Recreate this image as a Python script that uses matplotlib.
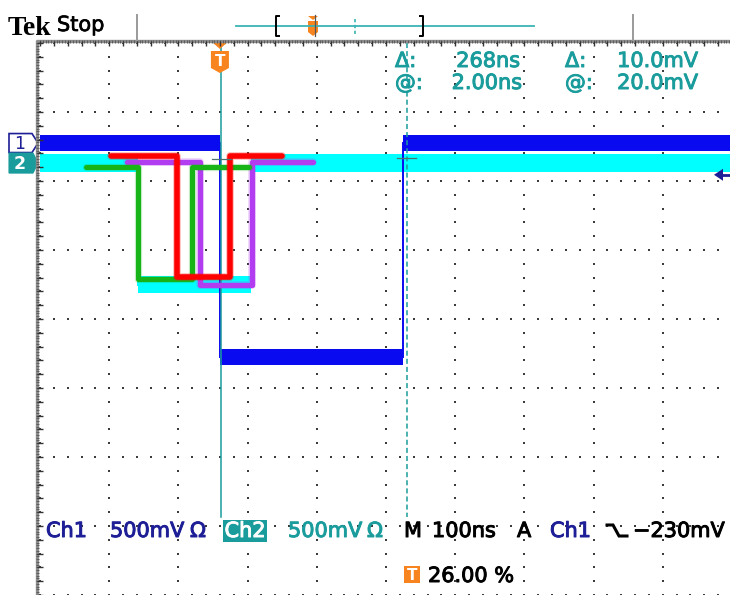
import numpy as np
import matplotlib
matplotlib.use("Agg")
import matplotlib.pyplot as plt
import matplotlib.patheffects as pe
from matplotlib.patches import Polygon, Rectangle

# ---------------- acquisition settings ----------------
time_per_div_ns = 100
volts_per_div = 0.5
trigger_position_pct = 26.00
trigger_level_V = -0.230
n_hdiv, n_vdiv = 10, 8

# channel ground markers (divisions above screen centre)
ch1_offset_div = 2.55
ch2_offset_div = 2.26

# Ch1: edge times (ns) and the levels (V) held between them
ch1_edges_ns = [0.0, 265.0]
ch1_levels_V = [0.0, -1.55, 0.0]
ch1_band_V = 0.115          # trace thickness from noise

# Ch2: edge times (ns) and levels (V)
ch2_edges_ns = [-118.0, 45.0]
ch2_levels_V = [0.0, -0.88, 0.0]
ch2_band_V = 0.13

# cursor readouts
cursor_a_ns = 2.00
cursor_delta_ns = 268
cursor_a_mV = 20.0
cursor_delta_mV = 10.0

# hand-drawn timing sketches: corner times (ns) and screen levels (div)
green_t = [-194, -119, -119, -40, -40, 42]
green_v = [2.20, 2.20, 0.58, 0.58, 2.20, 2.20]
red_t = [-158, -62, -62, 14, 14, 90]
red_v = [2.36, 2.36, 0.61, 0.61, 2.36, 2.36]
purple_t = [-135, -29, -29, 46, 46, 134]
purple_v = [2.27, 2.27, 0.50, 0.50, 2.27, 2.27]

# ---------------- colours ----------------
C_CH1 = "#0a0af0"
C_CH2 = "#00ffff"
C_TEAL = "#1a9c9c"
C_NAVY = "#1e1e96"
C_ORANGE = "#f7841e"
C_GRID = "#3c3c3c"

W, H = 730, 595
fig = plt.figure(figsize=(W / 100, H / 100), dpi=100, facecolor="white")

# graticule area in pixels
gx0, gx1 = 40.0, 732.0
gy0, gy1 = 43.0, 595.0
ax = fig.add_axes([gx0 / W, 1 - gy1 / H, (gx1 - gx0) / W, (gy1 - gy0) / H])
t_min = -trigger_position_pct / 100 * n_hdiv * time_per_div_ns
t_max = t_min + n_hdiv * time_per_div_ns
ax.set_xlim(t_min, t_max)
ax.set_ylim(-n_vdiv / 2, n_vdiv / 2)
ax.axis("off")


def px_x(t):
    return gx0 + (t - t_min) / (t_max - t_min) * (gx1 - gx0)


def px_y(v):
    return gy0 + (n_vdiv / 2 - v) / n_vdiv * (gy1 - gy0)


# ---------------- dotted graticule ----------------
minor_t = np.arange(t_min, t_max + 0.1, time_per_div_ns / 5)
minor_v = np.arange(-n_vdiv / 2, n_vdiv / 2 + 0.01, 0.2)
major_t = np.arange(t_min, t_max + 0.1, time_per_div_ns)
major_v = np.arange(-n_vdiv / 2, n_vdiv / 2 + 0.01, 1)
for v in major_v:
    ax.scatter(minor_t, np.full_like(minor_t, v), s=1.8, marker="s",
               color=C_GRID, linewidths=0, clip_on=False, zorder=1)
for t in major_t:
    ax.scatter(np.full_like(minor_v, t), minor_v, s=1.8, marker="s",
               color=C_GRID, linewidths=0, clip_on=False, zorder=1)


# ---------------- waveforms ----------------
def draw_channel(edges, levels, offset, band, color, z):
    bounds = [t_min] + list(edges) + [t_max]
    half = band / volts_per_div / 2
    lv = [offset + l / volts_per_div for l in levels]
    for i, y in enumerate(lv):
        ax.fill_between([bounds[i], bounds[i + 1]], y - half, y + half,
                        color=color, lw=0, zorder=z)
    for i, e in enumerate(edges):
        ax.plot([e, e], [lv[i], lv[i + 1]], color=color, lw=1.4, zorder=z)


draw_channel(ch2_edges_ns, ch2_levels_V, ch2_offset_div, ch2_band_V, C_CH2, 2)
draw_channel(ch1_edges_ns, ch1_levels_V, ch1_offset_div, ch1_band_V, C_CH1, 3)

# sketch overlays (soft halo + stroke)
for tt, vv, col, lw, z in [(purple_t, purple_v, "#b23cf0", 3.8, 6),
                           (green_t, green_v, "#16b416", 3.6, 7),
                           (red_t, red_v, "#ff0000", 4.0, 8)]:
    ax.plot(tt, vv, color=col, lw=lw + 1.6, alpha=0.25,
            solid_capstyle="round", solid_joinstyle="round", zorder=z)
    ax.plot(tt, vv, color=col, lw=lw, solid_capstyle="round",
            solid_joinstyle="round", zorder=z)

# cursors
readout_floor_v = -2.87
cursor_b_ns = cursor_a_ns + cursor_delta_ns
ax.plot([cursor_a_ns, cursor_a_ns], [n_vdiv / 2, readout_floor_v],
        color=C_TEAL, lw=1.1, zorder=5, clip_on=False)
ax.plot([cursor_b_ns, cursor_b_ns], [n_vdiv / 2, readout_floor_v],
        color=C_TEAL, lw=1.1, dashes=(3.3, 2.0), zorder=5)
for tc, mv in [(cursor_a_ns, cursor_a_mV - cursor_delta_mV), (cursor_b_ns, cursor_a_mV)]:
    yv = ch2_offset_div + mv / 1000 / volts_per_div + 0.04
    ax.plot([tc - 14, tc + 14], [yv, yv], color="#4a7070", lw=0.9, zorder=9)

# ---------------- overlay in pixel coordinates ----------------
ov = fig.add_axes([0, 0, 1, 1], zorder=10)
ov.set_xlim(0, W)
ov.set_ylim(H, 0)
ov.axis("off")

# border rulers
ov.plot([37, 37], [40, H], color="#8c8c8c", lw=2.4, solid_capstyle="butt")
ov.plot([36, W], [41, 41], color="#8c8c8c", lw=2.4, solid_capstyle="butt")
fine_x = np.arange(gx0, W, (gx1 - gx0) / n_hdiv / 25)
ov.vlines(fine_x, 40, 43, color="#555555", lw=0.6)
fine_y = np.arange(gy0, H, (gy1 - gy0) / n_vdiv / 25)
ov.hlines(fine_y, 36, 39, color="#555555", lw=0.6)
ov.hlines([px_y(v) for v in minor_v], 37, 43, color="#333333", lw=1.0)
ov.vlines([px_x(t) for t in minor_t], 41, 46, color="#333333", lw=1.0)

# trigger marker on the graticule
tx = px_x(0.0)
ov.add_patch(Polygon([(tx - 8, 42), (tx + 8, 42), (tx, 49)], closed=True,
                     color=C_ORANGE, lw=0))
ov.add_patch(Polygon([(tx - 9, 51), (tx + 9, 51), (tx + 9, 68), (tx, 73), (tx - 9, 68)],
                     closed=True, color=C_ORANGE, lw=0))
ov.text(tx, 62, "T", color="white", fontsize=11, fontweight="bold",
        ha="center", va="center", family="DejaVu Sans")

# channel ground markers
y1 = px_y(ch1_offset_div)
ov.add_patch(Polygon([(9, y1 - 9.5), (32, y1 - 9.5), (38, y1), (32, y1 + 9.5), (9, y1 + 9.5)],
                     closed=True, facecolor="white", edgecolor=C_NAVY, lw=1.2))
ov.text(20, y1 + 0.5, "1", color=C_NAVY, fontsize=12.5, ha="center", va="center")
y2 = px_y(ch2_offset_div)
ov.add_patch(Polygon([(9, y2 - 10), (33, y2 - 10), (38, y2), (33, y2 + 10), (9, y2 + 10)],
                     closed=True, facecolor=C_TEAL, edgecolor=C_TEAL, lw=0.8))
ov.text(20, y2 + 0.5, "2", color="white", fontsize=12.5, fontweight="bold",
        ha="center", va="center")

# trigger level arrow at the right edge
yt = px_y(ch1_offset_div + trigger_level_V / volts_per_div)
ov.add_patch(Polygon([(714, yt), (723, yt - 6), (723, yt + 6)], closed=True,
                     color=C_NAVY, lw=0))
ov.plot([722, W], [yt, yt], color=C_NAVY, lw=2)

# header
ov.text(8, 35, "Tek", family="Liberation Serif", fontweight="bold", fontsize=20,
        color="black", va="baseline")
ov.text(57, 31, "Stop", family="DejaVu Sans", fontsize=15, color="black", va="baseline",
        path_effects=[pe.withStroke(linewidth=0.5, foreground="black")])
ov.plot([137, 137], [15, 40], color="#9a9a9a", lw=1.4)
ov.plot([633, 633], [15, 40], color="#9a9a9a", lw=1.4)
ov.plot([236, 534], [26, 26], color="#3ab4b4", lw=1.3)
ov.plot([279, 276, 276, 279], [16, 16, 36, 36], color="black", lw=1.4)
ov.plot([420, 423, 423, 420], [16, 16, 36, 36], color="black", lw=1.4)
ov.add_patch(Polygon([(308, 16), (318, 16), (313, 20)], closed=True, color=C_ORANGE, lw=0))
ov.add_patch(Polygon([(308, 21), (318, 21), (318, 32), (313, 36), (308, 32)], closed=True,
                     color=C_ORANGE, lw=0))
ov.plot([315, 315], [15, 36], color="#555555", lw=0.9)
ov.plot([355, 355], [19, 34], color="#3ab4b4", lw=1.2, dashes=(2, 1.5))


def label(x, y, s, color, ha="left", size=15):
    ov.text(x, y, s, color=color, fontsize=size, va="baseline", ha=ha,
            path_effects=[pe.withStroke(linewidth=0.7, foreground=color)])


# cursor readouts
label(395, 67, "\u0394:", C_TEAL)
label(520, 67, f"{cursor_delta_ns}ns", C_TEAL, ha="right")
label(565, 67, "\u0394:", C_TEAL)
label(698, 67, f"{cursor_delta_mV:.1f}mV", C_TEAL, ha="right")
label(395, 89, "@:", C_TEAL)
label(522, 89, f"{cursor_a_ns:.2f}ns", C_TEAL, ha="right")
label(565, 89, "@:", C_TEAL)
label(698, 89, f"{cursor_a_mV:.1f}mV", C_TEAL, ha="right")

# bottom status line
yb = 537
label(46, yb, "Ch1", C_NAVY)
label(110, yb, f"{int(volts_per_div * 1000)}mV", C_NAVY)
label(190, yb, "\u03a9", C_NAVY)
ov.add_patch(Rectangle((223, 520), 44, 22, color=C_TEAL, lw=0))
label(245, yb, "Ch2", "white", ha="center")
label(288, yb, f"{int(volts_per_div * 1000)}mV", C_TEAL)
label(367, yb, "\u03a9", C_TEAL)
label(404, yb, "M", "black")
label(432, yb, f"{time_per_div_ns}ns", "black")
label(517, yb, "A", "black")
label(550, yb, "Ch1", C_NAVY)
ov.plot([607, 613, 619, 627], [525, 525, 536, 536], color="black", lw=2.2,
        solid_joinstyle="miter")
label(633, yb, f"\u2212{abs(int(round(trigger_level_V * 1000)))}mV", "black")

ov.add_patch(Rectangle((404, 566), 16, 17, color=C_ORANGE, lw=0))
ov.text(412, 575, "T", color="white", fontsize=11, fontweight="bold", ha="center", va="center")
label(428, 582, f"{trigger_position_pct:.2f} %", "black")

fig.savefig("out.png", dpi=100, facecolor="white")
